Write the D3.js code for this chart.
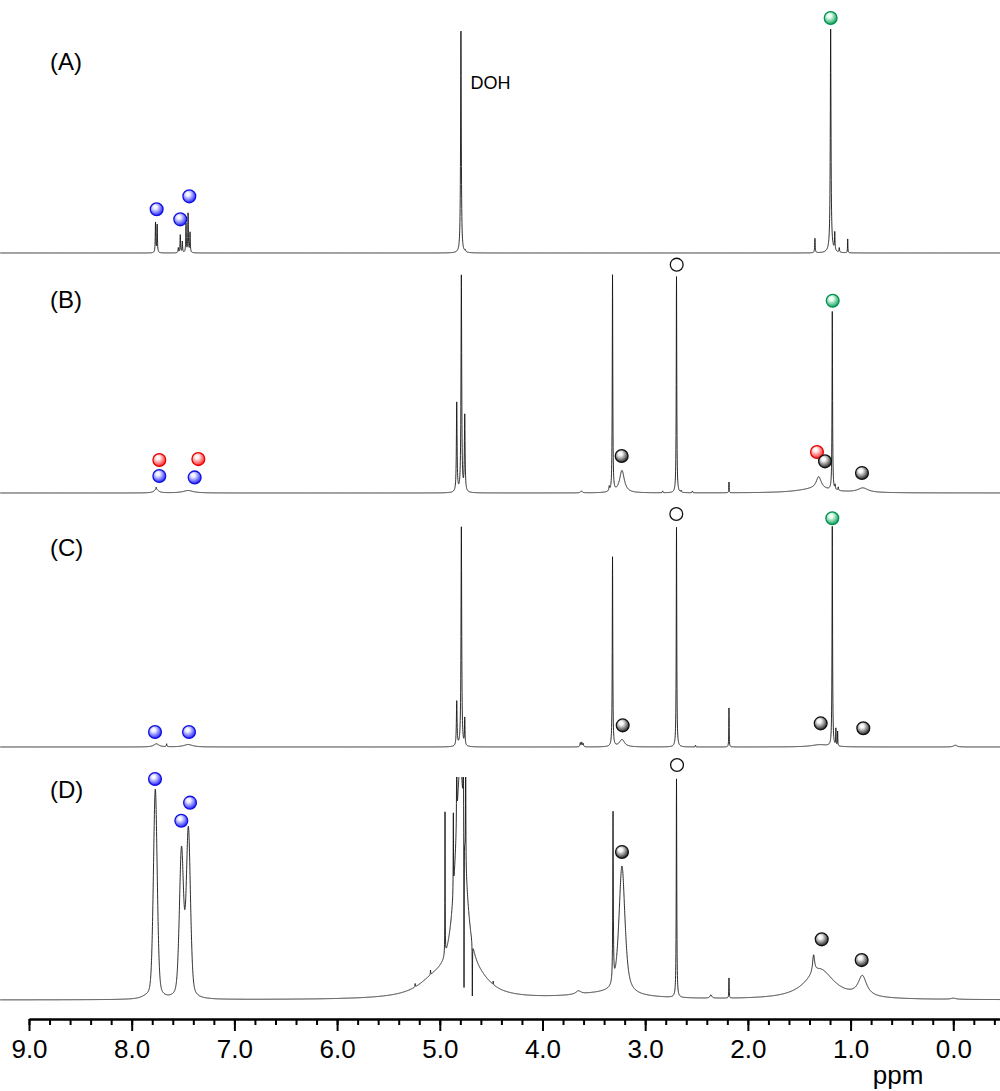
<!DOCTYPE html>
<html><head><meta charset="utf-8">
<script src="https://cdn.jsdelivr.net/npm/d3@7"></script>
<style>body{margin:0;background:#fff} svg{display:block}</style>
</head><body><svg id="c" width="1000" height="1091"></svg>
<script>
// ---------- data ----------
const majorTicks = [9, 8, 7, 6, 5, 4, 3, 2, 1, 0];
const tickLabels = ["9.0","8.0","7.0","6.0","5.0","4.0","3.0","2.0","1.0","0.0"];
const axisTitle = "ppm";
const panelLabels = ["(A)", "(B)", "(C)", "(D)"];

// peaks: [shift (ppm), height (a.u.), half-width (ppm), lorentzian fraction (optional, default 1)]
const peaksA = [
  [7.768, 13.5, 0.003], [7.752, 12.5, 0.003],
  [7.546, 2.2, 0.003], [7.527, 8.0, 0.003], [7.507, 5.0, 0.003],
  [7.471, 13.0, 0.003], [7.451, 17.5, 0.003], [7.432, 9.0, 0.003],
  [4.794, 99.5, 0.004], [4.752, 0.8, 0.004],
  [1.347, 6.5, 0.003], [1.194, 97.5, 0.004], [1.190, 3.0, 0.02],
  [1.154, 8.0, 0.003], [1.110, 2.0, 0.003], [1.028, 6.2, 0.002]
];
const peaksB = [
  [7.760, 1.6, 0.025], [7.762, 1.0, 0.003], [7.450, 1.1, 0.06],
  [4.835, 40, 0.004], [4.790, 97, 0.004], [4.757, 34, 0.004],
  [3.620, 0.8, 0.01], [3.350, 2.0, 0.004], [3.318, 97, 0.003], [3.226, 10, 0.028],
  [2.830, 0.8, 0.003], [2.695, 97, 0.003], [2.650, 0.8, 0.003], [2.540, 0.8, 0.003],
  [2.184, 4.8, 0.002], [1.350, 1.8, 0.2], [1.310, 5.5, 0.03], [1.178, 80, 0.003],
  [1.150, 2.0, 0.003], [1.120, 1.5, 0.003], [0.880, 2.0, 0.06]
];
const peaksC = [
  [7.760, 1.4, 0.03], [7.660, 1.3, 0.003], [7.450, 1.1, 0.05],
  [4.835, 20, 0.004], [4.790, 98.5, 0.004], [4.757, 12, 0.003],
  [3.632, 1.8, 0.004], [3.618, 2.0, 0.004], [3.604, 1.5, 0.004],
  [3.318, 85, 0.003], [3.226, 3.3, 0.03], [2.695, 98.5, 0.003], [2.510, 0.8, 0.002],
  [2.184, 17.5, 0.002], [1.300, 1.0, 0.1], [1.178, 98.5, 0.003],
  [1.143, 7.5, 0.002], [1.126, 6.5, 0.002], [-0.020, 0.8, 0.02]
];
const peaksD = [
  [7.870, 0.6, 0.05],
  [7.770, 94, 0.022, 0.35], [7.515, 65.4, 0.024, 0.35], [7.448, 74.8, 0.024, 0.35],
  [5.240, 1.5, 0.002], [5.090, 2.0, 0.002], [5.050, 7, 0.2],
  [4.949, 64, 0.0015], [4.868, 35, 0.0015], [4.835, 60, 0.0015],
  [4.800, 100, 0.06], [4.771, 70, 0.0015], [4.764, -76, 0.0015],
  [4.748, 70, 0.0015], [4.683, -24, 0.0015], [4.600, 4, 0.15], [4.480, 1.5, 0.002],
  [3.650, 1.5, 0.03], [3.400, 2.5, 0.4], [3.313, 76, 0.003], [3.226, 57.5, 0.035, 0.7],
  [2.695, 98, 0.003], [2.360, 1.5, 0.01], [2.184, 9, 0.002],
  [1.360, 8, 0.012], [1.300, 13.5, 0.17], [0.885, 9, 0.05], [0.000, 0.5, 0.03]
];

// markers: [shift (ppm), level (a.u.), species]
const markersA = [[7.757, 19.6, "b"], [7.527, 15.1, "b"], [7.439, 25.4, "b"], [1.194, 105.4, "g"]];
const markersB = [[7.731, 14.8, "r"], [7.351, 15.2, "r"], [7.731, 7.6, "b"], [7.387, 7.0, "b"],
  [3.229, 16.6, "k"], [2.693, 102.4, "o"], [1.174, 86.2, "g"], [1.327, 18.4, "r"],
  [1.249, 14.2, "k"], [0.889, 9.0, "k"]];
const markersC = [[7.773, 6.7, "b"], [7.442, 6.7, "b"], [3.219, 9.7, "k"], [2.697, 104.5, "o"],
  [1.178, 102.6, "g"], [1.291, 10.6, "k"], [0.876, 8.4, "k"]];
const markersD = [[7.773, 99.1, "b"], [7.517, 80.4, "b"], [7.432, 88.5, "b"], [3.226, 66.4, "k"],
  [2.690, 105.4, "o"], [1.281, 27.2, "k"], [0.892, 17.9, "k"]];

const annotationsA = [["DOH", 4.70, 73.5]];

// ---------- drawing ----------
const svg = d3.select("#c");
const FONT = "'Liberation Sans', Arial, Helvetica, sans-serif";
const x = d3.scaleLinear().domain([9, -0.455]).range([29, 1000]);

const panels = [
  {peaks: peaksA, markers: markersA, notes: annotationsA, label: panelLabels[0], base: 253, labelY: 70},
  {peaks: peaksB, markers: markersB, notes: [], label: panelLabels[1], base: 493, labelY: 308},
  {peaks: peaksC, markers: markersC, notes: [], label: panelLabels[2], base: 747, labelY: 556},
  {peaks: peaksD, markers: markersD, notes: [], label: panelLabels[3], base: 1000, labelY: 798, clipTop: 777}
];

const defs = svg.append("defs");
const sphere = {
  b: {edge: "#2323ff", stroke: "#1010e0", hi: "#eeeeff"},
  r: {edge: "#ff2323", stroke: "#e80000", hi: "#fff0f0"},
  g: {edge: "#12a05c", stroke: "#00914e", hi: "#eafff2"},
  k: {edge: "#262626", stroke: "#111111", hi: "#f4f4f4"}
};
Object.entries(sphere).forEach(([k, c]) => {
  const g = defs.append("radialGradient").attr("id", "sp-" + k)
    .attr("cx", "42%").attr("cy", "38%").attr("r", "62%").attr("fx", "38%").attr("fy", "32%");
  g.append("stop").attr("offset", "0%").attr("stop-color", "#ffffff");
  g.append("stop").attr("offset", "25%").attr("stop-color", c.hi);
  g.append("stop").attr("offset", "100%").attr("stop-color", c.edge);
});

const grid = d3.range(0, 9741).map(i => 9.28 - i * 0.001);
function shape(d, w, eta) {
  const r = d / w;
  return eta / (1 + r * r) + (1 - eta) * Math.exp(-Math.LN2 * r * r);
}
function trace(peaks) {
  const pts = grid.concat(peaks.map(p => p[0])).sort((a, b) => b - a);
  return pts.map(s => [s, d3.sum(peaks, ([c, h, w, eta = 1]) => h * shape(s - c, w, eta))]);
}

panels.forEach((p, i) => {
  const y = d3.scaleLinear().domain([0, 100]).range([p.base, p.base - 223]);
  const g = svg.append("g");
  if (p.clipTop !== undefined) {
    defs.append("clipPath").attr("id", "clip" + i).append("rect")
      .attr("x", 0).attr("y", p.clipTop).attr("width", 1000).attr("height", 1091 - p.clipTop);
  }
  const line = d3.line().x(d => x(d[0])).y(d => y(d[1]));
  g.append("path").datum(trace(p.peaks))
    .attr("d", line).attr("fill", "none").attr("stroke", "#151515")
    .attr("stroke-width", 0.9).attr("stroke-linejoin", "round")
    .attr("clip-path", p.clipTop !== undefined ? `url(#clip${i})` : null);

  g.append("text").text(p.label).attr("x", 50).attr("y", p.labelY)
    .attr("font-family", FONT).attr("font-size", 24).attr("fill", "#000");

  p.notes.forEach(([t, s, v]) => {
    g.append("text").text(t).attr("x", x(s)).attr("y", y(v))
      .attr("font-family", FONT).attr("font-size", 18).attr("fill", "#000");
  });

  g.selectAll("circle.m").data(p.markers).join("circle").attr("class", "m")
    .attr("cx", d => x(d[0])).attr("cy", d => y(d[1])).attr("r", 6.4)
    .attr("fill", d => d[2] === "o" ? "#fff" : `url(#sp-${d[2]})`)
    .attr("stroke", d => d[2] === "o" ? "#111" : sphere[d[2]].stroke)
    .attr("stroke-width", 1.3);
});

// axis
const axisG = svg.append("g").attr("transform", "translate(0,1019)");
const minorTicks = d3.range(-2, 46).map(k => k / 5);
axisG.append("g").call(d3.axisBottom(x).tickValues(minorTicks).tickFormat("").tickSize(6).tickSizeOuter(0));
axisG.append("g").call(d3.axisBottom(x).tickValues(majorTicks).tickFormat((d, i) => tickLabels[i])
  .tickSize(12).tickSizeOuter(0).tickPadding(9));
axisG.selectAll("path.domain").attr("stroke", "#000").attr("stroke-width", 2);
axisG.selectAll(".tick line").attr("stroke", "#000").attr("stroke-width", 2);
axisG.selectAll(".tick text").attr("font-family", FONT).attr("font-size", 26).attr("fill", "#000");

svg.append("text").text(axisTitle).attr("x", x(0.537)).attr("y", 1084)
  .attr("text-anchor", "middle").attr("font-family", FONT).attr("font-size", 26).attr("fill", "#000");
</script></body></html>
